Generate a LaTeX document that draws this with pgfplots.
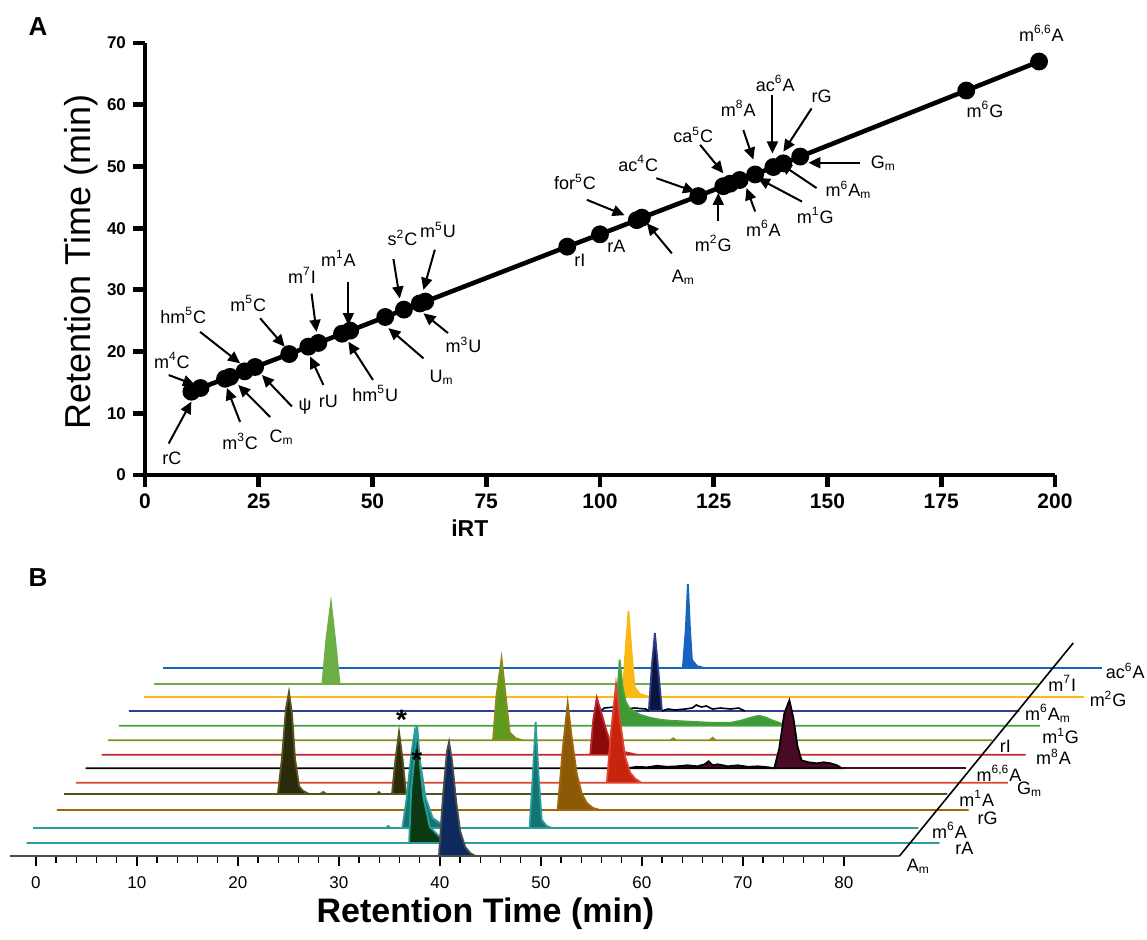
\documentclass[border=0pt]{standalone}
\usepackage{fontspec}
\setmainfont{Liberation Sans}
\usepackage{pgfplots}
\pgfplotsset{compat=1.18}
\usetikzlibrary{arrows.meta}

\definecolor{cac}{HTML}{1565C0}
\definecolor{cmsi}{HTML}{6DAE45}
\definecolor{cmtg}{HTML}{FDB913}
\definecolor{cmam}{HTML}{2E3D8F}
\definecolor{cmamf}{HTML}{0B1640}
\definecolor{cmog}{HTML}{48A23F}
\definecolor{cmogf}{HTML}{3E9A35}
\definecolor{cri}{HTML}{8C8C1E}
\definecolor{crif}{HTML}{5E9A1E}
\definecolor{cmea}{HTML}{C1272D}
\definecolor{cmeaf}{HTML}{8B0A0A}
\definecolor{cmsa}{HTML}{4A0A25}
\definecolor{cgm}{HTML}{E0442E}
\definecolor{cgmf}{HTML}{C8230E}
\definecolor{cmoa}{HTML}{555522}
\definecolor{cmoaf}{HTML}{2B2B0A}
\definecolor{crg}{HTML}{A0660A}
\definecolor{crgf}{HTML}{8C5A06}
\definecolor{cteal}{HTML}{2B9C9C}
\definecolor{cmsxf}{HTML}{137474}
\definecolor{craf}{HTML}{0B3A12}
\definecolor{camf}{HTML}{0D2A5C}

\pgfplotsset{sh/.style 2 args={x filter/.expression={x+#1},y filter/.expression={y+#2}}}
\tikzset{
  lbl/.style={font=\fontsize{9}{10}\selectfont,inner sep=1pt},
  arr/.style={line width=1pt,-{Triangle[length=6pt,width=5.5pt]}},
}

\begin{document}
\begin{tikzpicture}
\begin{scope}[x=0.5pt,y=-0.5pt]
  \useasboundingbox (0,0) rectangle (1147,939);
  \node[font=\bfseries\fontsize{13}{15}\selectfont] at (38,27) {A};
  \node[font=\bfseries\fontsize{13}{15}\selectfont] at (38,578) {B};
\end{scope}

% ---------- panel A ----------
\begin{axis}[
  at={(72.5pt,-237.5pt)},anchor=south west,scale only axis,
  width=455pt,height=216pt,
  xmin=0,xmax=200,ymin=0,ymax=70,
  axis x line=bottom,axis y line=left,
  axis line style={line width=2.4pt,-},
  xtick={0,25,...,200},ytick={0,10,...,70},
  tick align=outside,major tick length=6pt,
  tick style={line width=2.4pt,black},
  /pgf/number format/assume math mode=true,
  xticklabel style={font=\bfseries\fontsize{10.5}{12}\selectfont},
  yticklabel style={font=\bfseries\fontsize{8.5}{10}\selectfont},
  clip=false,
]
  \addplot[black,line width=2.3pt,mark=*,mark size=3.3pt,mark options={fill=black}] coordinates {
    (10.2,13.5) (12.2,14.1) (17.6,15.6) (18.7,15.9) (21.9,16.8) (24.2,17.5)
    (31.7,19.6) (35.9,20.8) (38.1,21.4) (43.3,22.9) (45.1,23.4) (52.8,25.6)
    (56.9,26.8) (60.4,27.8) (61.6,28.1) (92.8,37.0) (100.0,39.0) (108.1,41.3)
    (109.2,41.7) (121.6,45.2) (127.1,46.8) (128.6,47.2) (130.7,47.8) (134.1,48.7)
    (138.1,49.9) (140.3,50.5) (144.0,51.6) (180.5,62.3) (196.5,67.0)
  };
  \node[font=\bfseries\fontsize{11.5}{13}\selectfont] at (axis cs:71.4,-8.6) {iRT};
  \node[rotate=90,font=\fontsize{18}{20}\selectfont] at (axis cs:-14.1,34.5) {Retention Time (min)};

  \node[lbl] at (axis cs:5.9,2.7) {rC};
  \draw[arr] (axis cs:5.2,5.1) -- (axis cs:10.2,11.9);
  \node[lbl] at (axis cs:5.9,18.6) {m\textsuperscript{4}C};
  \draw[arr] (axis cs:5.2,16.2) -- (axis cs:11.0,14.6);
  \node[lbl] at (axis cs:8.4,25.9) {hm\textsuperscript{5}C};
  \draw[arr] (axis cs:12.1,23.2) -- (axis cs:20.9,18.1);
  \node[lbl] at (axis cs:22.7,27.8) {m\textsuperscript{5}C};
  \draw[arr] (axis cs:25.3,25.4) -- (axis cs:30.7,20.8);
  \node[lbl] at (axis cs:34.5,32.4) {m\textsuperscript{7}I};
  \draw[arr] (axis cs:36.6,29.4) -- (axis cs:37.7,23.2);
  \node[lbl] at (axis cs:42.5,35.1) {m\textsuperscript{1}A};
  \draw[arr] (axis cs:44.7,31.3) -- (axis cs:44.7,24.3);
  \node[lbl] at (axis cs:56.6,38.4) {s\textsuperscript{2}C};
  \draw[arr] (axis cs:54.6,35.0) -- (axis cs:56.0,28.6);
  \node[lbl] at (axis cs:64.4,39.7) {m\textsuperscript{5}U};
  \draw[arr] (axis cs:63.7,36.5) -- (axis cs:61.2,30.0);
  \node[lbl] at (axis cs:70.0,21.1) {m\textsuperscript{3}U};
  \draw[arr] (axis cs:66.6,23.0) -- (axis cs:61.2,26.2);
  \node[lbl] at (axis cs:65.2,15.9) {U\textsubscript{m}};
  \draw[arr] (axis cs:61.2,18.9) -- (axis cs:53.5,23.8);
  \node[lbl] at (axis cs:50.6,13.2) {hm\textsuperscript{5}U};
  \draw[arr] (axis cs:50.1,15.4) -- (axis cs:44.7,21.6);
  \node[lbl] at (axis cs:40.3,11.9) {rU};
  \draw[arr] (axis cs:39.2,14.6) -- (axis cs:36.3,19.2);
  \node[lbl] at (axis cs:35.2,11.1) {ψ};
  \draw[arr] (axis cs:32.3,11.1) -- (axis cs:25.7,16.2);
  \node[lbl] at (axis cs:30.0,6.2) {C\textsubscript{m}};
  \draw[arr] (axis cs:27.5,9.4) -- (axis cs:20.5,14.6);
  \node[lbl] at (axis cs:20.9,5.4) {m\textsuperscript{3}C};
  \draw[arr] (axis cs:20.9,8.6) -- (axis cs:18.0,14.1);

  \node[lbl] at (axis cs:95.6,34.8) {rI};
  \node[lbl] at (axis cs:103.6,37.0) {rA};
  \node[lbl] at (axis cs:94.5,47.5) {for\textsuperscript{5}C};
  \draw[arr] (axis cs:97.1,44.6) -- (axis cs:105.4,42.1);
  \node[lbl] at (axis cs:118.3,32.1) {A\textsubscript{m}};
  \draw[arr] (axis cs:115.8,35.9) -- (axis cs:110.3,40.8);
  \node[lbl] at (axis cs:108.4,50.5) {ac\textsuperscript{4}C};
  \draw[arr] (axis cs:112.4,48.1) -- (axis cs:120.9,45.9);
  \node[lbl] at (axis cs:120.5,55.1) {ca\textsuperscript{5}C};
  \draw[arr] (axis cs:122.0,53.5) -- (axis cs:127.1,48.9);
  \node[lbl] at (axis cs:124.9,37.5) {m\textsuperscript{2}G};
  \draw[arr] (axis cs:126.0,41.1) -- (axis cs:126.0,45.7);
  \node[lbl] at (axis cs:130.4,59.4) {m\textsuperscript{8}A};
  \draw[arr] (axis cs:131.5,55.9) -- (axis cs:133.7,51.1);
  \node[lbl] at (axis cs:135.9,40.0) {m\textsuperscript{6}A};
  \draw[arr] (axis cs:134.1,42.7) -- (axis cs:132.2,46.5);
  \node[lbl] at (axis cs:138.5,63.5) {ac\textsuperscript{6}A};
  \draw[arr] (axis cs:137.9,61.6) -- (axis cs:137.9,52.1);
  \node[lbl] at (axis cs:148.7,61.3) {rG};
  \draw[arr] (axis cs:146.5,59.4) -- (axis cs:140.3,52.4);
  \node[lbl] at (axis cs:162.3,50.5) {G\textsubscript{m}};
  \draw[arr] (axis cs:157.1,50.6) -- (axis cs:145.8,50.6);
  \node[lbl] at (axis cs:154.6,46.2) {m\textsuperscript{6}A\textsubscript{m}};
  \draw[arr] (axis cs:147.6,46.5) -- (axis cs:139.5,50.5);
  \node[lbl] at (axis cs:147.3,42.1) {m\textsuperscript{1}G};
  \draw[arr] (axis cs:144.4,44.3) -- (axis cs:134.7,48.1);
  \node[lbl] at (axis cs:184.6,59.2) {m\textsuperscript{6}G};
  \node[lbl] at (axis cs:197,71.6) {m\textsuperscript{6,6}A};
\end{axis}

% ---------- panel B ----------
\begin{axis}[
  at={(5pt,-428pt)},anchor=south west,scale only axis,
  width=444.75pt,height=140pt,
  xmin=-2.57,xmax=85.5,ymin=0,ymax=280,
  axis x line=bottom,axis y line=none,
  axis line style={-,draw=black!65,line width=0.8pt},
  xtick={0,10,...,80},minor x tick num=4,
  tick align=outside,major tick length=5pt,minor tick length=3.5pt,
  tick style={black,line width=0.7pt},
  /pgf/number format/assume math mode=true,
  xticklabel style={font=\fontsize{8.5}{10}\selectfont,yshift=-2pt},
  clip=false,
]
  % ac6A
  \addplot[sh={15.15}{188},draw=cac,fill=cac,line width=0.9pt] coordinates {
    (-2.57,0) (48.9,0) (49.2,40) (49.4,84) (49.6,40) (49.8,8) (50.3,2) (51,0) (90.4,0)} -- cycle;
  % m7I
  \addplot[sh={14.26}{172},draw=cmsi,fill=cmsi,line width=0.9pt] coordinates {
    (-2.57,0) (14.1,0) (14.5,45) (14.95,81) (15.35,45) (15.8,0) (85.0,0)} -- cycle;
  % m2G
  \addplot[sh={13.27}{159},draw=cmtg,fill=cmtg,line width=0.9pt] coordinates {
    (-2.57,0) (44.8,0) (45.1,45) (45.4,86) (45.7,45) (46.0,10) (46.5,3) (47.5,0) (90.5,0)} -- cycle;
  % m6Am
  \addplot[sh={11.78}{145},draw=cmam,fill=cmamf,line width=0.9pt] coordinates {
    (-2.57,0) (48.9,0) (49.2,45) (49.5,78) (49.8,45) (50.2,0) (85.6,0)} -- cycle;
  \addplot[sh={11.78}{145},draw=black,line width=0.8pt] coordinates {
    (44.1,0) (44.5,3) (45.5,4) (46.5,2) (47.5,3) (48.6,2) (48.9,0)};
  \addplot[sh={11.78}{145},draw=black,line width=0.8pt] coordinates {
    (50.2,0) (50.8,2) (51.5,1) (52.5,2) (53.2,3) (53.6,6) (54.1,4) (54.6,5) (55.2,2) (56,3) (57,2) (57.8,3) (58.4,0)};
  % m1G
  \addplot[sh={10.79}{130.3},draw=cmog,fill=cmogf,line width=0.9pt] coordinates {
    (-2.57,0) (46.6,0) (46.8,35) (47.0,66) (47.3,38) (47.6,24) (48,17) (49,11) (50,8) (51,6) (52,5)
    (54,4) (56,3) (58,3) (59,5) (60,8) (60.8,10) (61.5,8) (62.2,5) (62.8,3) (63.3,0) (88.6,0)} -- cycle;
  % rI
  \addplot[sh={9.70}{115.7},draw=cri,fill=crif,line width=0.9pt] coordinates {
    (-2.57,0) (35.55,0) (35.9,45) (36.4,82) (36.8,45) (37.2,8) (37.8,2) (38.5,0) (53.1,0) (53.4,2)
    (53.7,0) (57.0,0) (57.3,2.5) (57.6,0) (85.0,0)} -- cycle;
  % m8A
  \addplot[sh={9.08}{101.3},draw=cmea,fill=cmeaf,line width=0.9pt] coordinates {
    (-2.57,0) (45.8,0) (46.1,35) (46.45,57) (46.9,42) (47.4,24) (47.9,9) (48.5,4) (49.5,2) (50.4,0) (88.9,0)} -- cycle;
  % m6,6A
  \addplot[sh={7.50}{87.7},draw=black,fill=cmsa,line width=0.9pt] coordinates {
    (-2.57,0) (51.0,0) (52,1.5) (53,1) (54,2.5) (55,1.5) (56,2) (57,3) (58,2) (58.7,4) (59.1,7) (59.5,3)
    (60,4) (61,2) (62,3) (63,1.5) (64,2) (65,1) (65.6,0) (66.1,20) (66.6,55) (67.1,68) (67.5,50)
    (67.9,22) (68.3,8) (69,6) (69.8,5) (70.5,6) (71.2,5) (71.8,3) (72.3,0)} -- cycle;
  \addplot[sh={7.50}{87.7},draw=cmsa,line width=0.9pt] coordinates {(72.3,0) (84.6,0)};
  % Gm
  \addplot[sh={6.53}{73.3},draw=cgm,fill=cgmf,line width=0.9pt] coordinates {
    (-2.57,0) (50.0,0) (50.4,50) (50.9,98) (51.3,62) (51.8,26) (52.3,10) (52.8,4) (53.4,0) (89.7,0)} -- cycle;
  % m1A
  \addplot[sh={5.35}{62},draw=cmoa,fill=cmoaf,line width=0.9pt] coordinates {
    (-2.57,0) (18.6,0) (19.0,35) (19.4,85) (19.7,102) (20.0,80) (20.3,35) (20.7,8) (21.0,4) (21.3,2)
    (21.7,0) (22.8,0) (23.1,2) (23.4,0) (28.4,0) (28.6,2) (28.8,0) (29.9,0) (30.25,35) (30.6,62)
    (30.95,35) (31.3,0) (84.9,0)} -- cycle;
  % rG
  \addplot[sh={4.65}{46},draw=crg,fill=crgf,line width=0.9pt] coordinates {
    (-2.57,0) (47.0,0) (47.5,60) (48.0,107) (48.4,72) (48.9,36) (49.4,16) (49.9,7) (50.5,2) (51.2,0) (87.7,0)} -- cycle;
  % m6A
  \addplot[sh={2.28}{28},draw=cteal,fill=cmsxf,line width=0.9pt] coordinates {
    (-2.57,0) (32.4,0) (32.6,2) (32.8,0) (34.0,0) (34.4,28) (34.9,75) (35.25,98) (35.7,70) (36.3,30)
    (37,10) (38,3) (38.8,0) (46.6,0) (46.9,50) (47.2,106) (47.5,50) (47.8,8) (48.3,2) (48.8,0) (85.1,0)} -- cycle;
  % rA
  \addplot[sh={1.65}{13},draw=cteal,fill=craf,line width=0.9pt] coordinates {
    (-2.57,0) (35.3,0) (35.5,53) (35.9,93) (36.1,117) (36.4,76) (36.7,46) (37.35,16) (38.35,6)
    (39.3,1) (39.8,0) (87.8,0)} -- cycle;
  % Am
  \addplot[draw=black!70,fill=camf,line width=0.9pt] coordinates {
    (-2.57,0) (39.9,0) (40.3,60) (40.7,105) (40.9,114) (41.2,95) (41.6,55) (42.0,25) (42.5,9) (43.0,3)
    (43.5,0) (85.5,0)} -- cycle;

  \draw[black,line width=0.8pt] (axis cs:85.5,0) -- (axis cs:102.7,213);
  \node[font=\bfseries\fontsize{14}{16}\selectfont] at (axis cs:36.2,136) {*};
  \node[font=\bfseries\fontsize{14}{16}\selectfont] at (axis cs:37.7,96) {*};

  \node[lbl,anchor=west] at (axis cs:105.7,185) {ac\textsuperscript{6}A};
  \node[lbl,anchor=west] at (axis cs:100.0,172.7) {m\textsuperscript{7}I};
  \node[lbl,anchor=west] at (axis cs:104.1,157) {m\textsuperscript{2}G};
  \node[lbl,anchor=west] at (axis cs:97.7,143) {m\textsuperscript{6}A\textsubscript{m}};
  \node[lbl,anchor=west] at (axis cs:99.4,120) {m\textsuperscript{1}G};
  \node[lbl,anchor=west] at (axis cs:95.2,109.3) {rI};
  \node[lbl,anchor=west] at (axis cs:98.8,99.3) {m\textsuperscript{8}A};
  \node[lbl,anchor=west] at (axis cs:92.9,83) {m\textsuperscript{6,6}A};
  \node[lbl,anchor=west] at (axis cs:96.9,67) {G\textsubscript{m}};
  \node[lbl,anchor=west] at (axis cs:91.2,57.5) {m\textsuperscript{1}A};
  \node[lbl,anchor=west] at (axis cs:93.0,38) {rG};
  \node[lbl,anchor=west] at (axis cs:88.5,26) {m\textsuperscript{6}A};
  \node[lbl,anchor=west] at (axis cs:90.8,8) {rA};
  \node[lbl,anchor=west] at (axis cs:86.0,-10.7) {A\textsubscript{m}};

  \node[font=\bfseries\fontsize{17}{19}\selectfont] at (axis cs:44.5,-58) {Retention Time (min)};
\end{axis}
\end{tikzpicture}
\end{document}
